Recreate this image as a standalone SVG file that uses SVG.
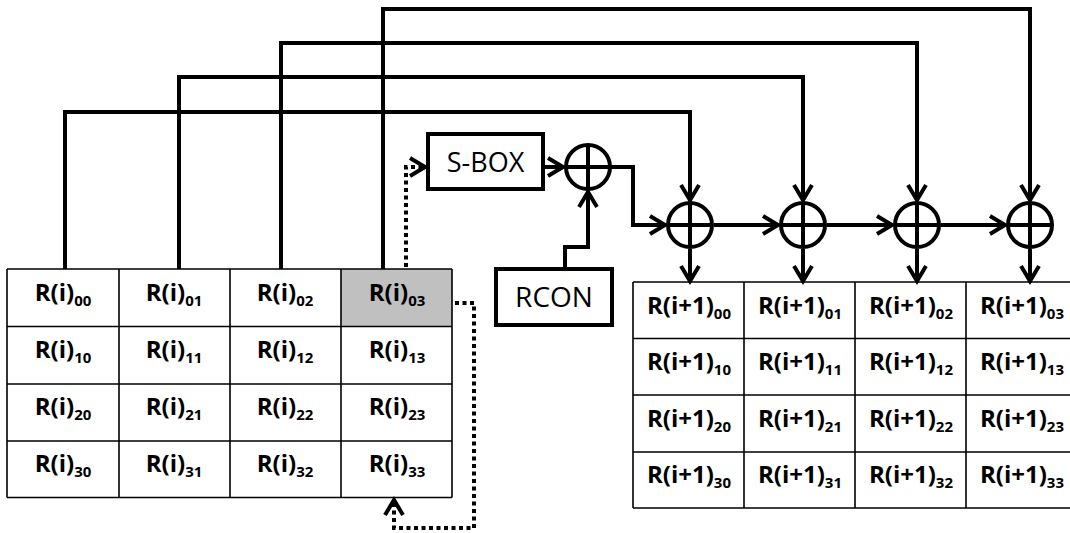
<svg xmlns="http://www.w3.org/2000/svg" width="1070" height="533" viewBox="0 0 1070 533">
<defs>
<style>
.thick{fill:none;stroke:#000;stroke-width:4;stroke-linejoin:miter}
.dot{fill:none;stroke:#000;stroke-width:4;stroke-dasharray:4 3.5}
.grid{fill:none;stroke:#000;stroke-width:1.6}
.cell{font-family:"Open Sans","Liberation Sans",sans-serif;font-weight:bold;font-size:24px;text-anchor:middle;fill:#000}
.sub{font-size:15px}
.lbl{font-family:"Open Sans","Liberation Sans",sans-serif;font-size:27px;text-anchor:middle;fill:#000}
.xor{fill:#fff;stroke:#000;stroke-width:4}
</style>
<marker id="ah" markerUnits="userSpaceOnUse" markerWidth="24" markerHeight="24" viewBox="-18 -12 22 24" refX="0" refY="0" orient="auto">
<path d="M-15,-9 L0,0 L-15,9" fill="none" stroke="#000" stroke-width="4"/>
</marker>
</defs>
<g id="connectors">
<path class="thick" d="M65,269 V112 H690 V200" marker-end="url(#ah)"/>
<path class="thick" d="M179,269 V77 H803 V200" marker-end="url(#ah)"/>
<path class="thick" d="M281,269 V43 H917 V200" marker-end="url(#ah)"/>
<path class="thick" d="M383,269 V9 H1030 V200" marker-end="url(#ah)"/>
<path class="thick" d="M543,167 H563" marker-end="url(#ah)"/>
<path class="thick" d="M611,167 H633 V225 H665" marker-end="url(#ah)"/>
<path class="thick" d="M565,269 V247 H588 V192" marker-end="url(#ah)"/>
<path class="thick" d="M714,225 H778" marker-end="url(#ah)"/>
<path class="thick" d="M827,225 H892" marker-end="url(#ah)"/>
<path class="thick" d="M941,225 H1005" marker-end="url(#ah)"/>
<path class="thick" d="M690,249 V281" marker-end="url(#ah)"/>
<path class="thick" d="M803,249 V281" marker-end="url(#ah)"/>
<path class="thick" d="M917,249 V281" marker-end="url(#ah)"/>
<path class="thick" d="M1030,249 V281" marker-end="url(#ah)"/>
<path class="dot" d="M406,267 V167 H425" marker-end="url(#ah)"/>
<path class="dot" d="M455,303 H474 V528 H394 V500" marker-end="url(#ah)"/>
</g>
<g id="xor0"><circle class="xor" cx="588" cy="167" r="22"/><path class="thick" d="M566,167 H610 M588,145 V189"/></g>
<g id="xor1"><circle class="xor" cx="690" cy="225" r="22"/><path class="thick" d="M668,225 H712 M690,203 V247"/></g>
<g id="xor2"><circle class="xor" cx="803" cy="225" r="22"/><path class="thick" d="M781,225 H825 M803,203 V247"/></g>
<g id="xor3"><circle class="xor" cx="917" cy="225" r="22"/><path class="thick" d="M895,225 H939 M917,203 V247"/></g>
<g id="xor4"><circle class="xor" cx="1030" cy="225" r="22"/><path class="thick" d="M1008,225 H1052 M1030,203 V247"/></g>
<g id="sbox"><rect x="428" y="134" width="115" height="55" fill="#fff" stroke="#000" stroke-width="4"/><text class="lbl" x="485.5" y="172">S-BOX</text></g>
<g id="rcon"><rect x="496" y="269" width="116" height="56" fill="#fff" stroke="#000" stroke-width="4"/><text class="lbl" x="554" y="307" style="font-size:28px">RCON</text></g>
<g id="state-i">
<rect x="341" y="269" width="111" height="57.5" fill="#c0c0c0"/>
<path class="grid" d="M7,269 H452 M7,326.5 H452 M7,384 H452 M7,441 H452 M7,497.5 H452 M7,269 V497.5 M119,269 V497.5 M230,269 V497.5 M341,269 V497.5 M452,269 V497.5"/>
<text class="cell" x="63" y="301">R(i)<tspan class="sub" dy="5">00</tspan></text>
<text class="cell" x="174" y="301">R(i)<tspan class="sub" dy="5">01</tspan></text>
<text class="cell" x="285" y="301">R(i)<tspan class="sub" dy="5">02</tspan></text>
<text class="cell" x="397" y="301">R(i)<tspan class="sub" dy="5">03</tspan></text>
<text class="cell" x="63" y="358">R(i)<tspan class="sub" dy="5">10</tspan></text>
<text class="cell" x="174" y="358">R(i)<tspan class="sub" dy="5">11</tspan></text>
<text class="cell" x="285" y="358">R(i)<tspan class="sub" dy="5">12</tspan></text>
<text class="cell" x="397" y="358">R(i)<tspan class="sub" dy="5">13</tspan></text>
<text class="cell" x="63" y="415">R(i)<tspan class="sub" dy="5">20</tspan></text>
<text class="cell" x="174" y="415">R(i)<tspan class="sub" dy="5">21</tspan></text>
<text class="cell" x="285" y="415">R(i)<tspan class="sub" dy="5">22</tspan></text>
<text class="cell" x="397" y="415">R(i)<tspan class="sub" dy="5">23</tspan></text>
<text class="cell" x="63" y="472">R(i)<tspan class="sub" dy="5">30</tspan></text>
<text class="cell" x="174" y="472">R(i)<tspan class="sub" dy="5">31</tspan></text>
<text class="cell" x="285" y="472">R(i)<tspan class="sub" dy="5">32</tspan></text>
<text class="cell" x="397" y="472">R(i)<tspan class="sub" dy="5">33</tspan></text>
</g>
<g id="state-i1">
<path class="grid" d="M633,282 H1077 M633,338.5 H1077 M633,395 H1077 M633,452 H1077 M633,508 H1077 M633,282 V508 M744,282 V508 M855,282 V508 M966,282 V508"/>
<text class="cell" x="689" y="314">R(i+1)<tspan class="sub" dy="5">00</tspan></text>
<text class="cell" x="800" y="314">R(i+1)<tspan class="sub" dy="5">01</tspan></text>
<text class="cell" x="911" y="314">R(i+1)<tspan class="sub" dy="5">02</tspan></text>
<text class="cell" x="1022" y="314">R(i+1)<tspan class="sub" dy="5">03</tspan></text>
<text class="cell" x="689" y="370">R(i+1)<tspan class="sub" dy="5">10</tspan></text>
<text class="cell" x="800" y="370">R(i+1)<tspan class="sub" dy="5">11</tspan></text>
<text class="cell" x="911" y="370">R(i+1)<tspan class="sub" dy="5">12</tspan></text>
<text class="cell" x="1022" y="370">R(i+1)<tspan class="sub" dy="5">13</tspan></text>
<text class="cell" x="689" y="427">R(i+1)<tspan class="sub" dy="5">20</tspan></text>
<text class="cell" x="800" y="427">R(i+1)<tspan class="sub" dy="5">21</tspan></text>
<text class="cell" x="911" y="427">R(i+1)<tspan class="sub" dy="5">22</tspan></text>
<text class="cell" x="1022" y="427">R(i+1)<tspan class="sub" dy="5">23</tspan></text>
<text class="cell" x="689" y="483">R(i+1)<tspan class="sub" dy="5">30</tspan></text>
<text class="cell" x="800" y="483">R(i+1)<tspan class="sub" dy="5">31</tspan></text>
<text class="cell" x="911" y="483">R(i+1)<tspan class="sub" dy="5">32</tspan></text>
<text class="cell" x="1022" y="483">R(i+1)<tspan class="sub" dy="5">33</tspan></text>
</g>
</svg>
